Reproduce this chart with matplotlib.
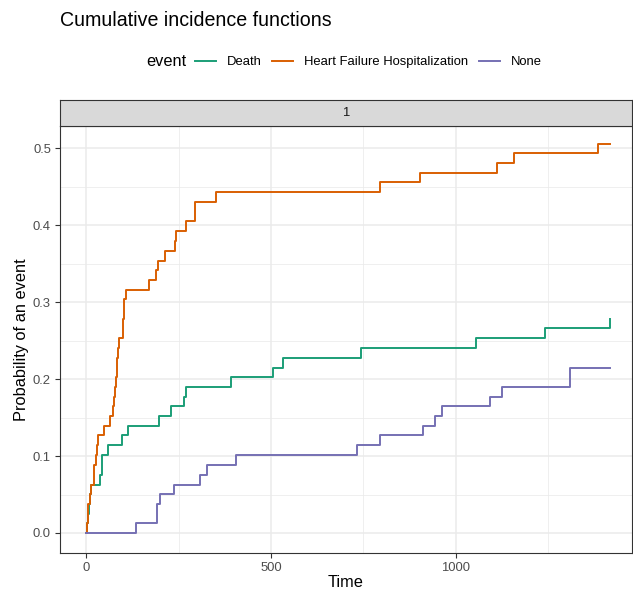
import numpy as np
import matplotlib
matplotlib.use('Agg')
import matplotlib.pyplot as plt
from matplotlib.lines import Line2D

plt.rcParams['font.family'] = ['Liberation Sans', 'DejaVu Sans']

# cumulative incidence
hf_time = [0, 2, 4, 6, 9, 12, 20, 22, 26, 28, 31, 47, 63, 72, 76, 78, 80, 82, 84, 86, 88,
           99, 100, 101, 103, 108, 171, 190, 194, 214, 241, 244, 270, 295, 352, 794, 902,
           1113, 1157, 1386, 1418]
hf_prob = [0, .013, .025, .038, .051, .063, .076, .089, .101, .114, .127, .139, .152, .165,
           .177, .190, .203, .215, .228, .241, .253, .266, .278, .291, .304, .316, .329, .342,
           .354, .367, .380, .392, .405, .430, .443, .456, .468, .481, .494, .506, .506]

death_time = [0, 2, 5, 8, 11, 14, 38, 42, 43, 60, 97, 114, 198, 230, 264, 270, 391, 506, 533,
              744, 1056, 1242, 1418]
death_prob = [0, .013, .025, .038, .051, .063, .076, .089, .101, .114, .127, .139, .152, .165,
              .177, .190, .203, .215, .228, .241, .253, .266, .278]

none_time = [0, 135, 192, 200, 237, 307, 327, 406, 734, 796, 911, 943, 964, 1092, 1126, 1308, 1418]
none_prob = [0, .013, .038, .051, .063, .076, .089, .101, .114, .127, .139, .152, .165, .177,
             .190, .215, .215]

labels = ['Death', 'Heart Failure Hospitalization', 'None']
colors = ['#1B9E77', '#D95F02', '#7570B3']
series = [(death_time, death_prob), (hf_time, hf_prob), (none_time, none_prob)]

W, H = 633, 590
fig = plt.figure(figsize=(W / 100, H / 100), dpi=100)

# panel pixel box
L, R, T, B = 60, 632, 126, 553
ax = fig.add_axes([L / W, 1 - B / H, (R - L) / W, (B - T) / H])
sax = fig.add_axes([L / W, 1 - T / H, (R - L) / W, 26 / H])

grey20 = '#333333'
for (t, p), c in zip(series, colors):
    ax.step(t, p, where='post', color=c, lw=1.4, zorder=3)

ax.set_xlim(-71, 1477)
ax.set_ylim(-0.026, 0.529)
ax.set_xticks([0, 500, 1000])
ax.set_yticks([0, 0.1, 0.2, 0.3, 0.4, 0.5])
ax.set_yticklabels(['0.0', '0.1', '0.2', '0.3', '0.4', '0.5'])
ax.set_xticks([250, 750, 1250], minor=True)
ax.set_yticks([0.05, 0.15, 0.25, 0.35, 0.45], minor=True)
ax.grid(which='major', color='#EBEBEB', lw=1.1)
ax.grid(which='minor', color='#EBEBEB', lw=0.55)
ax.set_axisbelow(True)
ax.tick_params(which='major', length=3.5, width=0.8, color=grey20,
               labelsize=9.4, labelcolor='#4D4D4D', pad=3)
ax.tick_params(which='minor', length=0)
for s in ax.spines.values():
    s.set_color(grey20)
    s.set_linewidth(0.8)
ax.set_xlabel('Time', fontsize=11.8, labelpad=1)
ax.set_ylabel('Probability of an event', fontsize=11.8, labelpad=3)

# facet strip
sax.set_facecolor('#D9D9D9')
sax.set_xticks([])
sax.set_yticks([])
for s in sax.spines.values():
    s.set_color(grey20)
    s.set_linewidth(0.8)
sax.text(0.5, 0.5, '1', ha='center', va='center', fontsize=9.4, color='#1A1A1A',
         transform=sax.transAxes)

fig.text(L / W, 1 - 20 / H, 'Cumulative incidence functions', fontsize=14.1,
         ha='left', va='center')

handles = [Line2D([], [], color=c, lw=1.4) for c in colors]
fig.text(146 / W, 1 - 62 / H, 'event', fontsize=11.8, ha='left', va='center')
fig.legend(handles, labels, loc='center left', bbox_to_anchor=(195 / W, 1 - 62 / H),
           ncol=3, frameon=False, fontsize=9.4, handlelength=1.6,
           handletextpad=0.85, columnspacing=0.8, borderaxespad=0, borderpad=0)

fig.savefig('out.png', dpi=100)
